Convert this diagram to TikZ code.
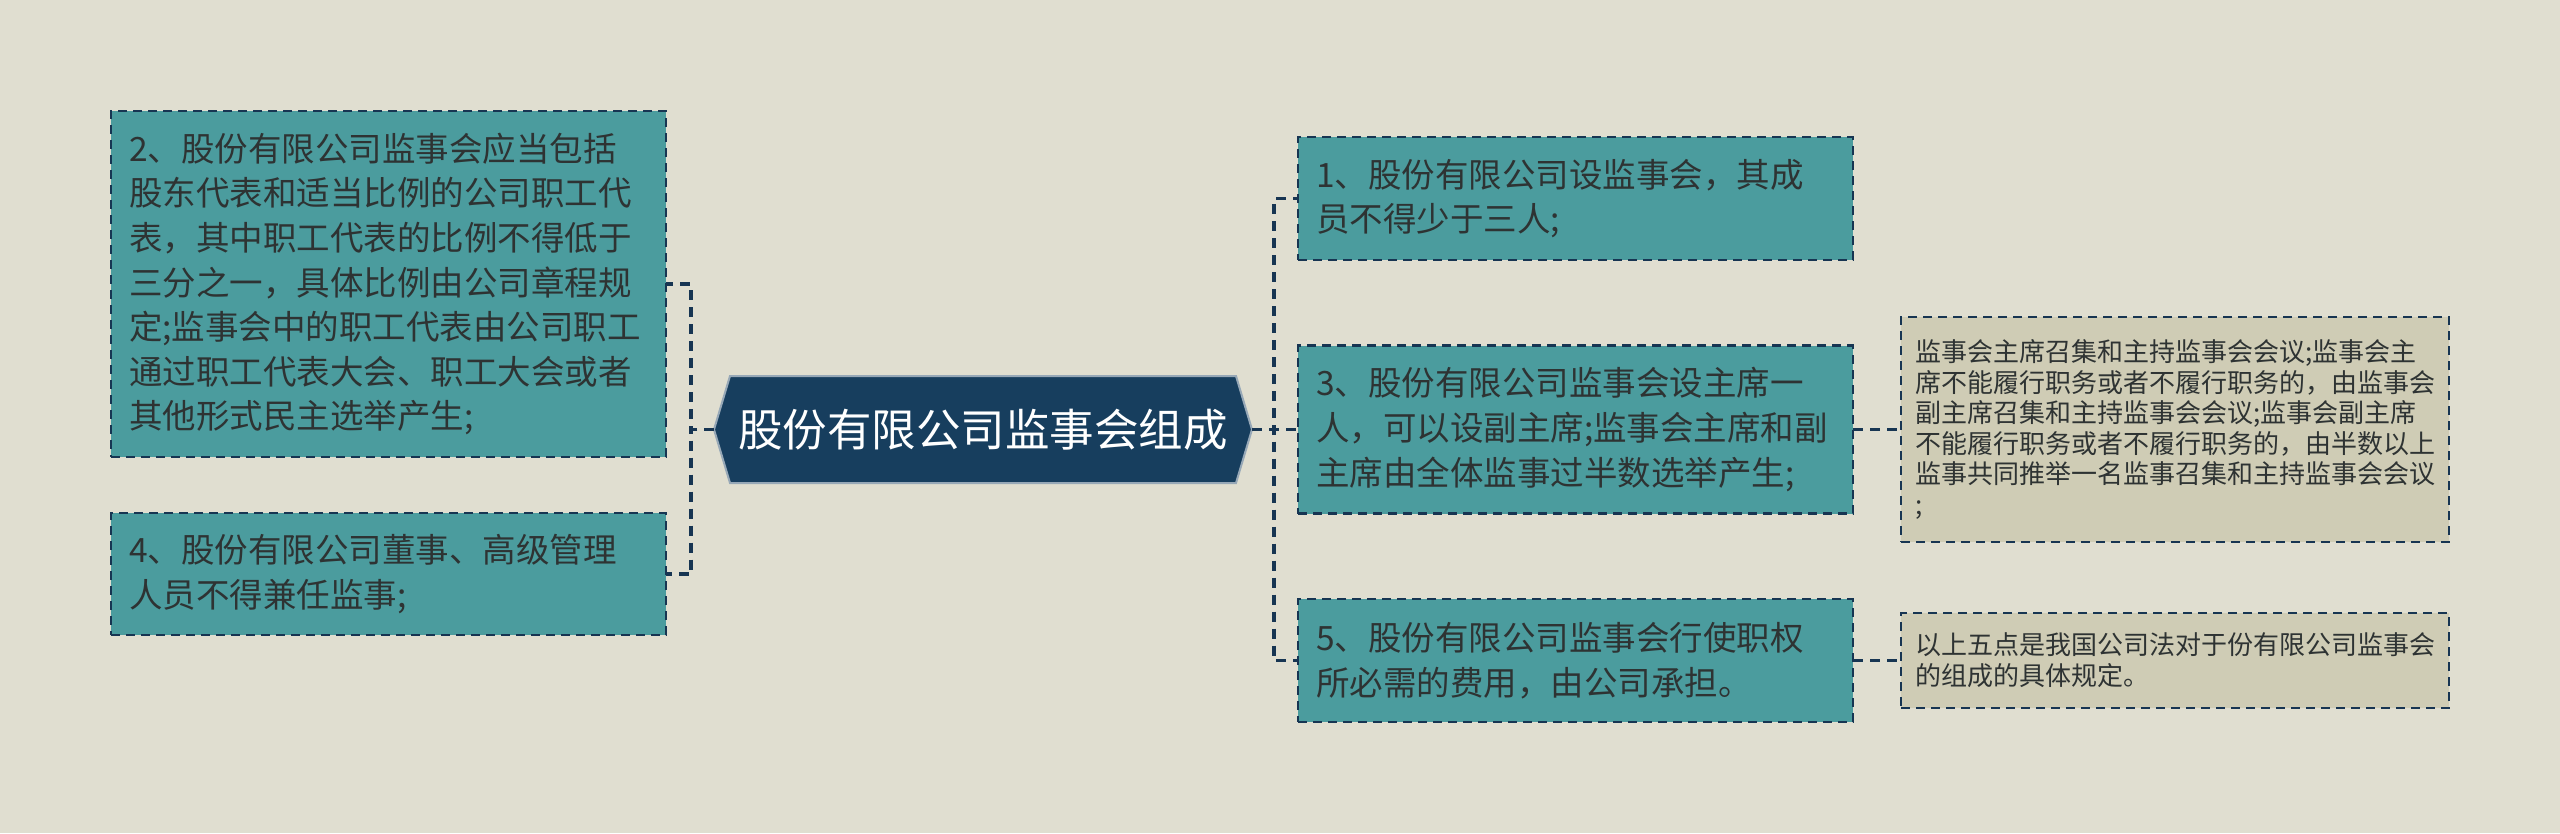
\documentclass[tikz,border=0pt]{standalone}
\usepackage{fontspec}
\setmainfont{Noto Sans CJK SC}
\definecolor{bgc}{HTML}{E0DED0}
\definecolor{tealbox}{HTML}{4B9C9E}
\definecolor{hubnavy}{HTML}{173E5E}
\definecolor{edgec}{HTML}{173552}
\definecolor{detailfill}{HTML}{CFCCB5}
\definecolor{txtc}{HTML}{2E3333}
\pgfdeclarelayer{background}
\pgfsetlayers{background,main}
\tikzset{
  mainbox/.style={rectangle, fill=tealbox, draw=edgec, line width=2.2pt,
    dash pattern=on 9pt off 6pt, outer sep=0pt, inner xsep=18pt, inner ysep=0pt,
    text width=519pt, align=left, text=txtc,
    font=\fontsize{33.5}{44.6}\selectfont},
  detailbox/.style={rectangle, fill=detailfill, draw=edgec, line width=2.2pt,
    dash pattern=on 9pt off 6pt, outer sep=0pt, inner xsep=14pt, inner ysep=0pt,
    text width=520pt, align=left, text=txtc,
    font=\fontsize{26}{30.6}\selectfont},
  hubnode/.style={rectangle, minimum width=538pt, minimum height=107pt,
    inner sep=0pt, outer sep=0pt, text=white, font=\fontsize{44.5}{54}\selectfont},
  hexfill/.style={fill=hubnavy, draw=white!55!hubnavy, line width=2pt},
  link/.style={draw=edgec, line width=3.4pt, dash pattern=on 10pt off 7pt},
}
\begin{document}
\begin{tikzpicture}[x=1pt,y=-1pt]
\begin{pgfonlayer}{background}
  \fill[bgc] (0,0) rectangle (2560,833);
\end{pgfonlayer}
\useasboundingbox (0,0) rectangle (2560,833);

\node[hubnode] (c) at (983,429.5) {股份有限公司监事会组成};
\begin{pgfonlayer}{background}
  \path[hexfill] (c.west) -- ([xshift=16pt]c.north west) -- ([xshift=-16pt]c.north east)
    -- (c.east) -- ([xshift=-16pt]c.south east) -- ([xshift=16pt]c.south west) -- cycle;
\end{pgfonlayer}

\node[mainbox, minimum height=346pt] (b2) at (388.5,284) {2、股份有限公司监事会应当包括\\股东代表和适当比例的公司职工代\\表，其中职工代表的比例不得低于\\三分之一，具体比例由公司章程规\\定;监事会中的职工代表由公司职工\\通过职工代表大会、职工大会或者\\其他形式民主选举产生;};
\node[mainbox, minimum height=122pt] (b4) at (388.5,574) {4、股份有限公司董事、高级管理\\人员不得兼任监事;};

\node[mainbox, minimum height=123pt] (b1) at (1575.5,198.5) {1、股份有限公司设监事会，其成\\员不得少于三人;};
\node[mainbox, minimum height=168pt] (b3) at (1575.5,429.5) {3、股份有限公司监事会设主席一\\人，可以设副主席;监事会主席和副\\主席由全体监事过半数选举产生;};
\node[mainbox, minimum height=123pt] (b5) at (1575.5,660.5) {5、股份有限公司监事会行使职权\\所必需的费用，由公司承担。};

\node[detailbox, minimum height=225pt] (dA) at (2175,429.5) {监事会主席召集和主持监事会会议;监事会主\\席不能履行职务或者不履行职务的，由监事会\\副主席召集和主持监事会会议;监事会副主席\\不能履行职务或者不履行职务的，由半数以上\\监事共同推举一名监事召集和主持监事会会议\\;};
\node[detailbox, minimum height=95pt] (dB) at (2175,660.5) {以上五点是我国公司法对于份有限公司监事会\\的组成的具体规定。};

\draw[link] (c.west) -- ++(-23,0) |- (b2.east);
\draw[link] (c.west) -- ++(-23,0) |- (b4.east);
\draw[link] (c.east) -- ++(22,0) |- (b1.west);
\draw[link] (c.east) -- (b3.west);
\draw[link] (c.east) -- ++(22,0) |- (b5.west);
\draw[link] (b3.east) -- (dA.west);
\draw[link] (b5.east) -- (dB.west);
\end{tikzpicture}
\end{document}
